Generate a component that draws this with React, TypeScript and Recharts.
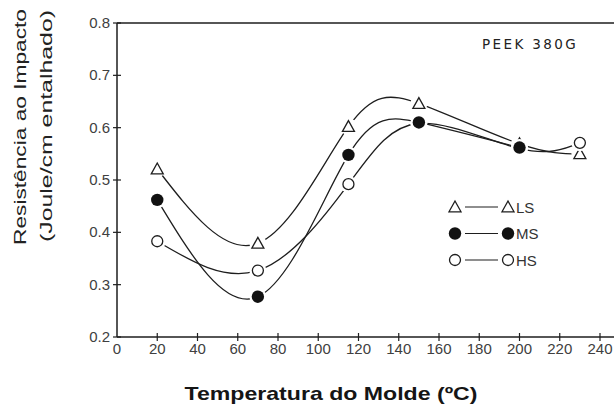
import React from 'react';
import { LineChart, Line, XAxis, YAxis, ReferenceLine } from 'recharts';

// mold temperature (ºC) and notched impact strength (J/cm) for each series
const temps = [20, 70, 115, 150, 200, 230];
const lsValues = [0.521, 0.379, 0.602, 0.646, 0.569, 0.55];
const msValues = [0.462, 0.277, 0.548, 0.61, 0.562, null];
const hsValues = [0.383, 0.327, 0.492, 0.608, 0.56, 0.571];

const xTicks = [0, 20, 40, 60, 80, 100, 120, 140, 160, 180, 200, 220, 240];
const yTicks = [0.2, 0.3, 0.4, 0.5, 0.6, 0.7, 0.8];

const chartData = temps.map((t, i) => ({
  t,
  ls: lsValues[i],
  ms: msValues[i],
  hs: hsValues[i],
}));

const ink = '#1e1e1e';
const sans = 'Liberation Sans, Arial, sans-serif';
const tickFont = { fontFamily: sans, fontSize: 15, fill: '#404040' };

type Kind = 'tri' | 'dot' | 'ring';

function Marker({ kind, cx, cy }: { kind: Kind; cx: number; cy: number }) {
  if (kind === 'tri') {
    const s = 6;
    return (
      <polygon
        points={`${cx},${cy - s} ${cx - s},${cy + s * 0.8} ${cx + s},${cy + s * 0.8}`}
        fill="#fff"
        stroke={ink}
        strokeWidth={1.3}
      />
    );
  }
  if (kind === 'dot') return <circle cx={cx} cy={cy} r={6.2} fill="#111" />;
  return <circle cx={cx} cy={cy} r={5.5} fill="#fff" stroke={ink} strokeWidth={1.3} />;
}

const makeDot = (kind: Kind) => (props: any) => {
  const { cx, cy, index } = props;
  if (cx == null || cy == null || props.value == null) return <g key={`${kind}-${index}`} />;
  return (
    <g key={`${kind}-${index}`}>
      <circle cx={cx} cy={cy} r={8.5} fill="#fff" />
      <Marker kind={kind} cx={cx} cy={cy} />
    </g>
  );
};

const YTick = (props: any) => {
  const { x, y, payload } = props;
  return (
    <g>
      <line x1={x - 4} x2={x + 4} y1={y} y2={y} stroke={ink} strokeWidth={1.2} />
      <text x={x - 7} y={y} dy={5} textAnchor="end" {...tickFont}>
        {Number(payload.value).toFixed(1)}
      </text>
    </g>
  );
};

const XTick = (props: any) => {
  const { x, y, payload } = props;
  return (
    <g>
      {payload.value !== 0 && (
        <line x1={x} x2={x} y1={y - 4} y2={y + 4} stroke={ink} strokeWidth={1.2} />
      )}
      <text x={x} y={y + 17} textAnchor="middle" {...tickFont}>
        {payload.value}
      </text>
    </g>
  );
};

const legendRows: { kind: Kind; name: string }[] = [
  { kind: 'tri', name: 'LS' },
  { kind: 'dot', name: 'MS' },
  { kind: 'ring', name: 'HS' },
];

const LegendBox = ({ x, y }: { x: number; y: number }) => (
  <g>
    {legendRows.map((row, i) => {
      const ry = y + i * 26.5;
      return (
        <g key={row.name}>
          <Marker kind={row.kind} cx={x} cy={ry} />
          <line x1={x + 10} x2={x + 43} y1={ry} y2={ry} stroke={ink} strokeWidth={1.2} />
          <Marker kind={row.kind} cx={x + 53} cy={ry} />
          <text x={x + 61} y={ry + 5.5} fontFamily={sans} fontSize={15} fill="#333">
            {row.name}
          </text>
        </g>
      );
    })}
  </g>
);

export default function App() {
  return (
    <div style={{ position: 'absolute', left: 0, top: 0, background: '#fff' }}>
      <LineChart
        width={614}
        height={405}
        data={chartData}
        margin={{ top: 23, right: 14, bottom: 0, left: 0 }}
      >
        <XAxis
          dataKey="t"
          type="number"
          domain={[0, 240]}
          ticks={xTicks}
          interval={0}
          tickSize={0}
          tickMargin={0}
          tick={<XTick />}
          height={68}
          axisLine={{ stroke: ink, strokeWidth: 1.5 }}
          tickLine={false}
        />
        <YAxis
          type="number"
          domain={[0.2, 0.8]}
          ticks={yTicks}
          interval={0}
          tickSize={0}
          tickMargin={0}
          tick={<YTick />}
          width={117}
          axisLine={{ stroke: ink, strokeWidth: 1.5 }}
          tickLine={false}
        />
        <ReferenceLine y={0.8} stroke={ink} strokeWidth={1.5} />
        {/* frame lines run on past the last tick to the page edge */}
        <line x1={600} x2={614} y1={23} y2={23} stroke={ink} strokeWidth={1.5} />
        <line x1={600} x2={614} y1={337} y2={337} stroke={ink} strokeWidth={1.5} />
        <Line
          type="natural"
          dataKey="ls"
          stroke={ink}
          strokeWidth={1.3}
          dot={makeDot('tri')}
          activeDot={false}
          isAnimationActive={false}
        />
        <Line
          type="natural"
          dataKey="hs"
          stroke={ink}
          strokeWidth={1.3}
          dot={makeDot('ring')}
          activeDot={false}
          isAnimationActive={false}
        />
        <Line
          type="natural"
          dataKey="ms"
          stroke={ink}
          strokeWidth={1.3}
          dot={makeDot('dot')}
          activeDot={false}
          isAnimationActive={false}
        />
        <LegendBox x={455} y={207} />
        <text x={482} y={49} fontFamily="DejaVu Sans, sans-serif" fontSize={13.5} letterSpacing={2.4} fill="#222">
          PEEK 380G
        </text>
        <text
          transform="translate(26,127) rotate(-90)"
          textAnchor="middle"
          fontFamily={sans}
          fontSize={16}
          textLength={236}
          lengthAdjust="spacingAndGlyphs"
          fill="#222"
        >
          Resistência ao Impacto
        </text>
        <text
          transform="translate(52,126) rotate(-90)"
          textAnchor="middle"
          fontFamily={sans}
          fontSize={16}
          textLength={232}
          lengthAdjust="spacingAndGlyphs"
          fill="#222"
        >
          (Joule/cm entalhado)
        </text>
        <text
          x={331}
          y={400}
          textAnchor="middle"
          fontFamily={sans}
          fontSize={19}
          fontWeight="bold"
          textLength={293}
          lengthAdjust="spacingAndGlyphs"
          fill="#151515"
        >
          Temperatura do Molde (ºC)
        </text>
      </LineChart>
    </div>
  );
}
